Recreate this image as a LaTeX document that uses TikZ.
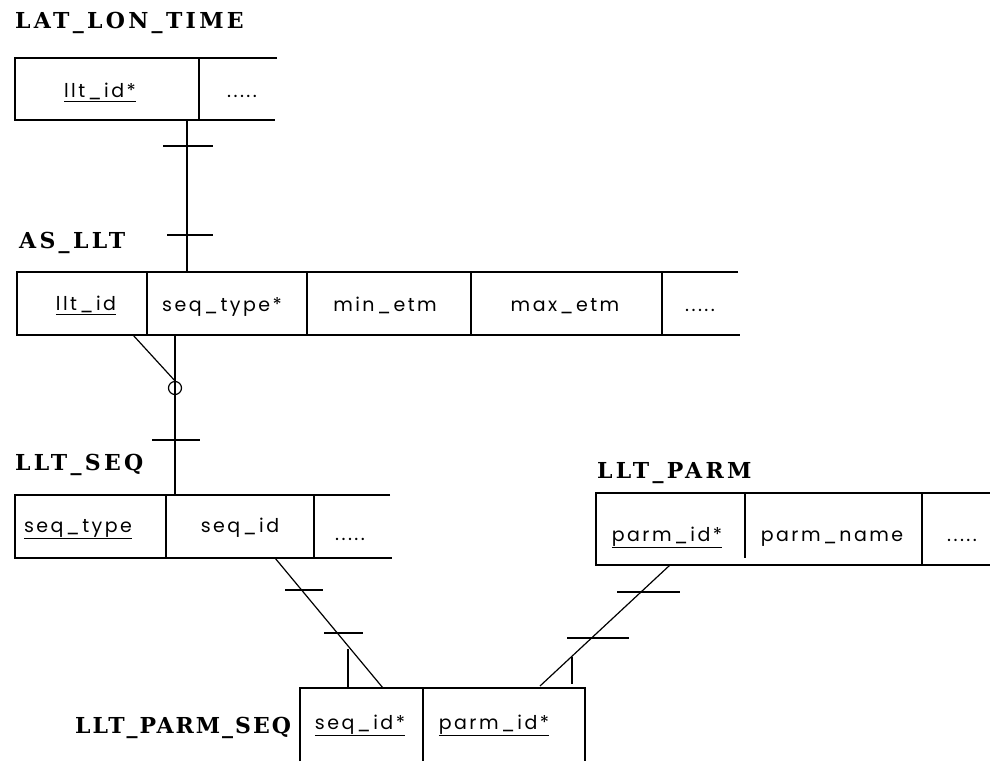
\documentclass[tikz,border=0pt]{standalone}
\usepackage{fontspec}
\newfontfamily\fieldfont[LetterSpace=13]{Poppins}
\newfontfamily\labelfont[LetterSpace=15]{DejaVu Serif}
\begin{document}
\begin{tikzpicture}[x=1pt,y=-1pt,
  box/.style={line width=1.6pt},
  conn/.style={line width=1.2pt},
  lbl/.style={anchor=base west, inner sep=0pt, font=\labelfont\bfseries\fontsize{22}{22}\selectfont},
  fld/.style={anchor=base, inner sep=0pt, font=\fieldfont\fontsize{19}{19}\selectfont}]
\useasboundingbox (0,0) rectangle (990,761);

% ---------- LAT_LON_TIME
\node[lbl] (lltlabel) at (15,28) {LAT\_LON\_TIME};
\draw[box] (277,58) -- (15,58) -- (15,120) -- (275,120);
\draw[box] (199,58) -- (199,120);
\node[fld] (llt1) at (100,97) {\underline{llt\_id*}};
\node[fld] (llt2) at (242,97) {.....};

% ---------- AS_LLT
\node[lbl] (aslabel) at (19,248) {AS\_LLT};
\draw[box] (738,272) -- (17,272) -- (17,335) -- (740,335);
\foreach \x in {147,307,471,662} \draw[box] (\x,272) -- (\x,335);
\node[fld] (as1) at (86,310) {\underline{llt\_id}};
\node[fld] (as2) at (222,311) {seq\_type*};
\node[fld] (as3) at (385,311) {min\_etm};
\node[fld] (as4) at (565,311) {max\_etm};
\node[fld] (as5) at (700,311) {.....};

% ---------- LLT_SEQ
\node[lbl] (seqlabel) at (15,470) {LLT\_SEQ};
\draw[box] (390,495) -- (15,495) -- (15,558) -- (392,558);
\foreach \x in {166,314} \draw[box] (\x,495) -- (\x,558);
\node[fld] (seq1) at (78,532) {\underline{seq\_type}};
\node[fld] (seq2) at (240,532) {seq\_id};
\node[fld] (seq3) at (350,540) {.....};

% ---------- LLT_PARM
\node[lbl] (parmlabel) at (597,478) {LLT\_PARM};
\draw[box] (990,493) -- (596,493) -- (596,565) -- (990,565);
\draw[box] (745,493) -- (745,558);
\draw[box] (922,493) -- (922,565);
\node[fld] (parm1) at (667,541) {\underline{parm\_id*}};
\node[fld] (parm2) at (832,541) {parm\_name};
\node[fld] (parm3) at (962,541) {.....};

% ---------- LLT_PARM_SEQ
\node[lbl] (pslabel) at (75,733) {\addfontfeatures{LetterSpace=9}LLT\_PARM\_SEQ};
\draw[box] (300,761) -- (300,688) -- (585,688) -- (585,761);
\draw[box] (423,688) -- (423,761);
\node[fld] (ps1) at (360,729) {\underline{seq\_id*}};
\node[fld] (ps2) at (494,729) {\underline{parm\_id*}};

% ---------- connector LAT_LON_TIME -- AS_LLT
\coordinate (lltbot) at (187,120);
\coordinate (astop) at (187,272);
\draw[conn] (lltbot) -- (astop);
\draw[conn] (163,146) -- (213,146);
\draw[conn] (167,235) -- (213,235);

% ---------- connector AS_LLT -- LLT_SEQ
\coordinate (asbot) at (175,335);
\coordinate (asdiag) at (133,335);
\coordinate (seqtop) at (175,495);
\node[circle, draw, line width=1.2pt, minimum size=13pt, inner sep=0pt] (opt) at (175,388) {};
\draw[conn] (asbot) -- (seqtop);
\draw[conn] (asdiag) -- (opt.north);
\draw[conn] (152,440) -- (200,440);

% ---------- connector LLT_SEQ -- LLT_PARM_SEQ
\coordinate (seqbot) at (275,558);
\coordinate (pstopl) at (383,688);
\draw[conn] (seqbot) -- (pstopl);
\draw[conn] (285,590) -- (323,590);
\draw[conn] (324,633) -- (363,633);
\coordinate (tickl) at (348,649);
\draw[conn] (tickl) -- (348,688);

% ---------- connector LLT_PARM -- LLT_PARM_SEQ
\coordinate (parmbot) at (670,565);
\coordinate (pstopr) at (540,686);
\draw[conn] (parmbot) -- (pstopr);
\draw[conn] (617,592) -- (680,592);
\draw[conn] (567,638) -- (629,638);
\coordinate (tickr) at (572,657);
\draw[conn] (tickr) -- (572,684);
\end{tikzpicture}
\end{document}
